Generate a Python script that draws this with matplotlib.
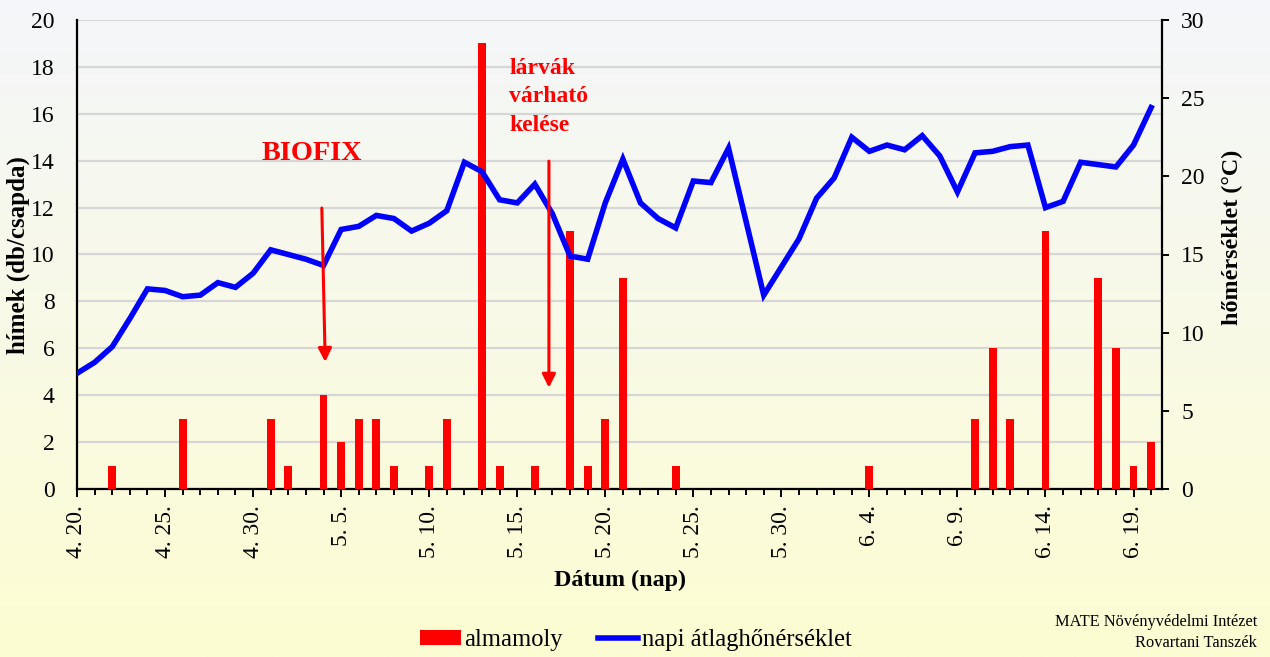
import numpy as np
import matplotlib
import matplotlib.pyplot as plt

matplotlib.use('Agg')

# daily catch (almamoly, hímek/csapda) and mean temperature, 4.20 -> 6.20
tick_labels = ['4. 20.', '4. 25.', '4. 30.', '5. 5.', '5. 10.', '5. 15.', '5. 20.',
               '5. 25.', '5. 30.', '6. 4.', '6. 9.', '6. 14.', '6. 19.']
moth_counts = [0, 0, 1, 0, 0, 0, 3, 0, 0, 0,
               0, 3, 1, 0, 4, 2, 3, 3, 1, 0,
               1, 3, 0, 19, 1, 0, 1, 0, 11, 1,
               3, 9, 0, 0, 1, 0, 0, 0, 0, 0,
               0, 0, 0, 0, 0, 1, 0, 0, 0, 0,
               0, 3, 6, 3, 0, 11, 0, 0, 9, 6,
               1, 2]
mean_temp = [7.4, 8.1, 9.1, 10.9, 12.8, 12.7, 12.3, 12.4, 13.2, 12.9,
             13.8, 15.3, 15.0, 14.7, 14.3, 16.6, 16.8, 17.5, 17.3, 16.5,
             17.0, 17.8, 20.9, 20.3, 18.5, 18.3, 19.5, 17.6, 14.9, 14.7,
             18.3, 21.1, 18.3, 17.3, 16.7, 19.7, 19.6, 21.8, 17.1, 12.4,
             14.2, 16.0, 18.6, 19.9, 22.5, 21.6, 22.0, 21.7, 22.6, 21.3,
             19.0, 21.5, 21.6, 21.9, 22.0, 18.0, 18.4, 20.9, 20.75, 20.6,
             22.0, 24.4]

SERIF = ['Liberation Serif', 'DejaVu Serif']
PX = 0.72  # points per pixel at dpi 100


def draw_background(fig):
    bg = fig.add_axes([0, 0, 1, 1], zorder=-10)
    top = np.array([244, 246, 250]) / 255
    bottom = np.array([253, 253, 210]) / 255
    t = np.linspace(0, 1, 256)[:, None]
    grad = top * (1 - t) + bottom * t
    bg.imshow(grad[:, None, :].repeat(2, axis=1), aspect='auto', extent=[0, 1, 0, 1])
    bg.axis('off')


def main():
    plt.rcParams['font.family'] = SERIF
    fig = plt.figure(figsize=(12.7, 6.57), dpi=100)
    draw_background(fig)

    ax = fig.add_axes([77 / 1270, 168 / 657, (1161.7 - 77) / 1270, 469 / 657])
    ax.patch.set_alpha(0)
    days = np.arange(len(moth_counts))

    ax.bar(days, moth_counts, width=0.45, color='#FF0000', zorder=3, label='almamoly')
    ax.set_xlim(0, 61.6)
    ax.set_ylim(0, 20)
    ax.set_yticks(np.arange(0, 21, 2))
    ax.yaxis.grid(True, color='#D6D6D6', lw=1.6)
    ax.set_axisbelow(True)
    ax.set_xticks(np.arange(0, 61, 5))
    ax.set_xticklabels(tick_labels, rotation=90, va='top', ha='center')
    ax.set_xticks(days, minor=True)
    ax.tick_params(axis='x', which='both', direction='out', width=1.4, labelsize=17, pad=6)
    ax.tick_params(axis='x', which='major', length=8 * PX)
    ax.tick_params(axis='x', which='minor', length=6 * PX)
    ax.tick_params(axis='y', length=0, labelsize=17, pad=16)
    for side in ['top', 'right']:
        ax.spines[side].set_visible(False)
    for side in ['left', 'bottom']:
        ax.spines[side].set_linewidth(1.6)

    ax2 = ax.twinx()
    ax2.plot(days, mean_temp, color='#0000FF', lw=4, solid_joinstyle='miter', zorder=4,
             label='napi átlaghőnérséklet')
    ax2.set_ylim(0, 30)
    ax2.set_yticks(np.arange(0, 31, 5))
    ax2.tick_params(axis='y', direction='out', length=7 * PX, width=1.4, labelsize=17, pad=9)
    for side in ['top', 'left', 'bottom']:
        ax2.spines[side].set_visible(False)
    ax2.spines['right'].set_linewidth(1.6)

    # annotations, placed in bar-axis units
    arrow = dict(arrowstyle='-|>', color='#FF0000', lw=2.2, mutation_scale=20)
    ax2.annotate('', xy=(14.1, 5.3), xytext=(13.9, 12.1), xycoords=ax.transData,
                 textcoords=ax.transData, arrowprops=arrow, zorder=6)
    ax2.annotate('', xy=(26.8, 4.2), xytext=(26.8, 14.1), xycoords=ax.transData,
                 textcoords=ax.transData, arrowprops=arrow, zorder=6)
    ax2.text(10.5, 14.03, 'BIOFIX', transform=ax.transData, color='#FF0000',
             fontsize=20.3, fontweight='bold', ha='left', va='baseline')
    for txt, yy in zip(['lárvák', 'várható', 'kelése'], [17.70, 16.52, 15.28]):
        ax2.text(24.55, yy, txt, transform=ax.transData, color='#FF0000',
                 fontsize=17, fontweight='bold', ha='left', va='baseline')

    fig.text(18 / 1270, 1 - 255 / 657, 'hímek (db/csapda)', rotation=90, fontsize=18,
             fontweight='bold', ha='center', va='center')
    fig.text(1232 / 1270, 1 - 237 / 657, 'hőmérséklet (°C)', rotation=90, fontsize=17.4,
             fontweight='bold', ha='center', va='center')
    fig.text(620 / 1270, 1 - 580 / 657, 'Dátum (nap)', fontsize=17.4,
             fontweight='bold', ha='center', va='center')

    h1, l1 = ax.get_legend_handles_labels()
    h2, l2 = ax2.get_legend_handles_labels()
    fig.legend(h1 + h2, l1 + l2, loc='center', bbox_to_anchor=(636 / 1270, 1 - 640 / 657),
               ncol=2, frameon=False, fontsize=17.7, handlelength=1.65, handleheight=0.55,
               handletextpad=0.15, columnspacing=1.4, borderpad=0.2)

    fig.text(1257 / 1270, 1 - 622 / 657, 'MATE Növényvédelmi Intézet', fontsize=11.8,
             ha='right', va='center')
    fig.text(1257 / 1270, 1 - 643 / 657, 'Rovartani Tanszék', fontsize=11.8,
             ha='right', va='center')

    fig.savefig('out.png', dpi=100)
    plt.close(fig)


if __name__ == '__main__':
    main()
